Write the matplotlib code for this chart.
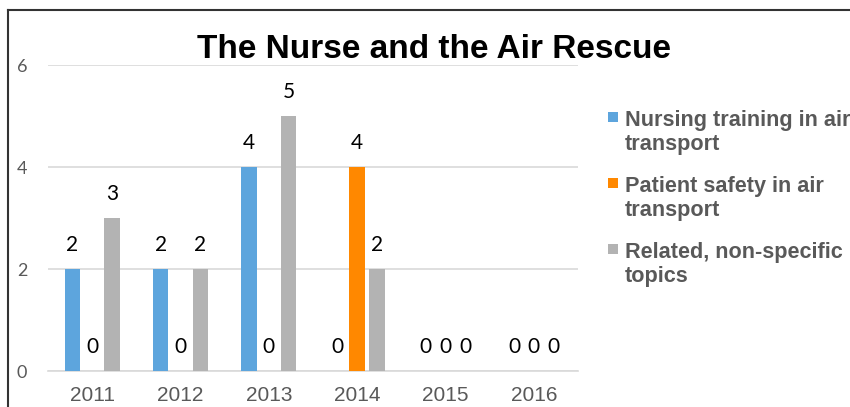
#!/usr/bin/env python
import matplotlib
matplotlib.use("Agg")
import matplotlib.pyplot as plt
import numpy as np
from matplotlib.lines import Line2D
from matplotlib.patches import Rectangle

# data
years = ["2011", "2012", "2013", "2014", "2015", "2016"]
training = [2, 2, 4, 0, 0, 0]
safety = [0, 0, 0, 4, 0, 0]
related = [3, 2, 5, 2, 0, 0]
series_names = ["Nursing training in air\ntransport",
                "Patient safety in air\ntransport",
                "Related, non-specific\ntopics"]
series_colors = ["#5DA5DD", "#FF8800", "#B3B3B3"]

W, H = 850, 407
fig = plt.figure(figsize=(W / 100, H / 100), dpi=100)
ax = fig.add_axes([48 / W, 36 / H, 530 / W, 306 / H])

x = np.arange(len(years))
step = 0.225
width = 0.175
for i, (vals, col) in enumerate(zip([training, safety, related], series_colors)):
	pos = x + (i - 1) * step
	ax.bar(pos, vals, width=width, color=col, zorder=3)
	for px, v in zip(pos, vals):
		ax.annotate(str(v), (px, v), xytext=(0, 10), textcoords="offset points",
			ha="center", va="bottom", fontsize=15, family="Lato", color="black")

ax.set_xlim(-0.5, 5.5)
ax.set_ylim(0, 6)
ax.set_yticks([0, 2, 4, 6])
ax.set_xticks(x)
ax.set_xticklabels(years, fontsize=15, family="Liberation Sans", color="#595959")
for t in ax.get_yticklabels():
	t.set_fontsize(13)
	t.set_family("Lato")
	t.set_color("#595959")
ax.tick_params(axis="both", length=0)
ax.tick_params(axis="y", pad=15)
ax.tick_params(axis="x", pad=11)
ax.grid(axis="y", color="#D9D9D9", linewidth=1.2, zorder=0)
for s in ["top", "right", "left"]:
	ax.spines[s].set_visible(False)
ax.spines["bottom"].set_color("#D9D9D9")
ax.spines["bottom"].set_linewidth(1.2)

fig.text(434 / W, 1 - 49 / H, "The Nurse and the Air Rescue", ha="center", va="center",
	fontsize=24, fontweight="bold", family="Liberation Sans", color="black")

# legend, drawn by hand so the square sits on the first text line
for i, (name, col) in enumerate(zip(series_names, series_colors)):
	top = 112 + i * 66
	fig.add_artist(Rectangle((608 / W, 1 - (top + 10) / H), 10 / W, 10 / H,
		transform=fig.transFigure, facecolor=col, edgecolor="none"))
	# baseline alignment of a two-line text uses the last line
	fig.text(625 / W, 1 - (top + 38) / H, name, ha="left", va="baseline",
		fontsize=15.6, fontweight="bold", family="Liberation Sans", color="#595959",
		linespacing=1.2)

# outer frame of the original chart
fig.add_artist(Line2D([8 / W, 8 / W], [0, 1 - 10 / H], color="#333333", linewidth=1.5))
fig.add_artist(Line2D([8 / W, 1], [1 - 10 / H, 1 - 10 / H], color="#333333", linewidth=1.5))

fig.savefig("out.png", dpi=100)
